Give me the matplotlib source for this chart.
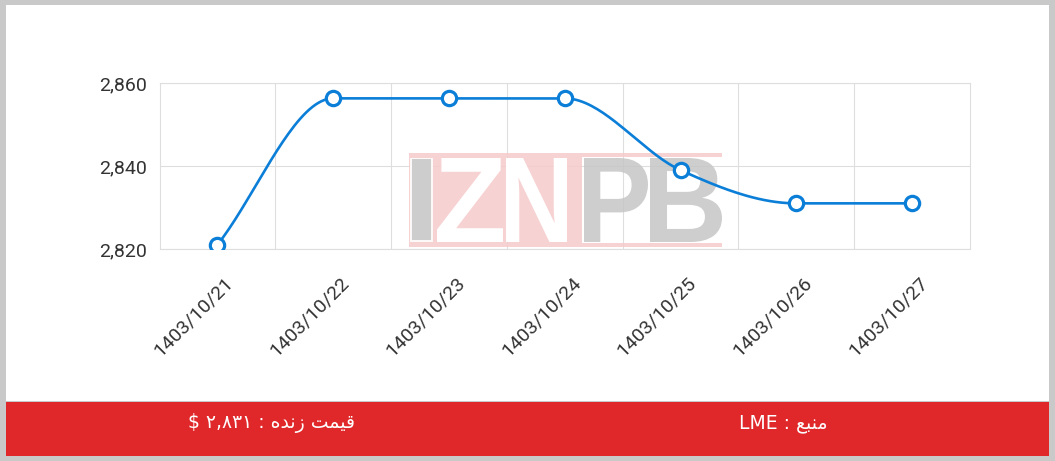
import numpy as np
import matplotlib
matplotlib.use("Agg")
import matplotlib.pyplot as plt
from matplotlib.patches import Rectangle, PathPatch
from matplotlib.textpath import TextPath
from matplotlib.font_manager import FontProperties
from matplotlib.transforms import Affine2D, ScaledTranslation

# ---------------- data ----------------
dates = ["1403/10/21", "1403/10/22", "1403/10/23", "1403/10/24",
         "1403/10/25", "1403/10/26", "1403/10/27"]
prices = [2821, 2856.3, 2856.3, 2856.3, 2839, 2831, 2831]
y_ticks = [2820, 2840, 2860]
y_tick_labels = ["2,820", "2,840", "2,860"]
# footer texts (visual order, Arabic presentation forms for shaping)
footer_price = "$ \u06F2,\u06F8\u06F3\u06F1 : \uFEE9\uFEAA\uFEE7\uFEAF \uFE96\uFEE4\uFEF4\uFED7"
footer_source = "LME : \uFECA\uFE92\uFEE8\uFEE3"

W, H = 1055, 461
LINE = "#0b7ed8"
GRID = "#dedede"
RED = "#e0282b"

fig = plt.figure(figsize=(W / 100, H / 100), dpi=100)
fig.patch.set_facecolor("#c9c9c9")

def fx(x):
    return x / W

def fy(y):
    return 1 - y / H

# white card and red footer band
fig.add_artist(Rectangle((fx(6), fy(401)), fx(1049) - fx(6), fy(5) - fy(401),
                         transform=fig.transFigure, facecolor="white",
                         edgecolor="none", zorder=-10))
fig.add_artist(Rectangle((fx(6), fy(456)), fx(1049) - fx(6), fy(402) - fy(456),
                         transform=fig.transFigure, facecolor=RED,
                         edgecolor="none", zorder=-9))

ax = fig.add_axes([fx(159.5), fy(249), fx(970) - fx(159.5), fy(83) - fy(249)])
ax.set_facecolor("none")

# ---------------- monotone cubic (Chart.js style) ----------------
xs = np.arange(len(prices), dtype=float)
ys = np.array(prices, dtype=float)
n = len(xs)
dk = np.diff(ys) / np.diff(xs)
mk = np.zeros(n)
mk[0] = dk[0]
mk[-1] = dk[-1]
for i in range(1, n - 1):
    if dk[i - 1] == 0 or dk[i] == 0 or np.sign(dk[i - 1]) != np.sign(dk[i]):
        mk[i] = 0
    else:
        mk[i] = (dk[i - 1] + dk[i]) / 2
for i in range(n - 1):
    if dk[i] == 0:
        mk[i] = 0
        mk[i + 1] = 0
        continue
    a = mk[i] / dk[i]
    b = mk[i + 1] / dk[i]
    s = a * a + b * b
    if s > 9:
        t = 3 / np.sqrt(s)
        mk[i] = a * t * dk[i]
        mk[i + 1] = b * t * dk[i]

cx, cy = [], []
for i in range(n - 1):
    h = xs[i + 1] - xs[i]
    t = np.linspace(0, 1, 40)
    h00 = 2 * t**3 - 3 * t**2 + 1
    h10 = t**3 - 2 * t**2 + t
    h01 = -2 * t**3 + 3 * t**2
    h11 = t**3 - t**2
    cx.extend(xs[i] + t * h)
    cy.extend(h00 * ys[i] + h10 * h * mk[i] + h01 * ys[i + 1] + h11 * h * mk[i + 1])

ax.plot(cx, cy, color=LINE, lw=1.9, zorder=3, solid_capstyle="round")
ax.plot(xs, ys, linestyle="none", marker="o", markersize=10.3,
        markerfacecolor="white", markeredgecolor=LINE, markeredgewidth=2.3,
        zorder=4)

ax.set_xlim(-0.5, len(dates) - 0.5)
ax.set_ylim(2820, 2860)

ax.set_yticks(y_ticks)
ax.set_yticklabels(y_tick_labels, fontsize=14, color="#333333", family="Roboto")
ax.set_xticks(xs)
ax.set_xticklabels(dates, fontsize=14, color="#333333", family="Roboto",
                   rotation=45, ha="right", va="center", rotation_mode="anchor")
ax.set_xticks(np.arange(0.5, len(dates) - 1, 1.0), minor=True)
ax.tick_params(axis="both", which="both", length=0)
ax.tick_params(axis="y", pad=9)
ax.tick_params(axis="x", pad=22)
for lbl in ax.get_xticklabels():
    lbl.set_transform(lbl.get_transform() + ScaledTranslation(0.13, 0, fig.dpi_scale_trans))

ax.grid(True, which="minor", axis="x", color=GRID, lw=0.8)
ax.grid(True, which="major", axis="y", color=GRID, lw=0.8)
ax.set_axisbelow(True)
for sp in ax.spines.values():
    sp.set_color(GRID)
    sp.set_linewidth(0.8)

# ---------------- watermark (IZNPB) ----------------
to_fig = Affine2D().scale(1 / W, 1 / H) + fig.transFigure
PINK = "#f6cbcc"
GRAY = "#c6c6c6"
WM_ALPHA = 0.85

def pix_rect(x0, y0, x1, y1, color, z=1.5):
    r = Rectangle((x0, H - y1), x1 - x0, y1 - y0, transform=to_fig,
                  facecolor=color, edgecolor="none", alpha=WM_ALPHA,
                  zorder=z, clip_on=False)
    ax.add_artist(r)

def pix_letter(ch, x0, y0, x1, y1, color, z=1.7):
    fp = FontProperties(family="Liberation Sans", weight="bold")
    tp = TextPath((0, 0), ch, size=100, prop=fp)
    ext = tp.get_extents()
    sx = (x1 - x0) / ext.width
    sy = (y1 - y0) / ext.height
    tr = (Affine2D().translate(-ext.x0, -ext.y0).scale(sx, sy)
          .translate(x0, H - y1)) + to_fig
    p = PathPatch(tp, transform=tr, facecolor=color, edgecolor="none",
                  alpha=WM_ALPHA if color != "white" else 1.0,
                  zorder=z, clip_on=False)
    ax.add_artist(p)

pix_rect(409, 153, 722, 157, PINK)
pix_rect(409, 243, 722, 247, PINK)
pix_rect(409, 157, 582, 243, PINK)
pix_rect(410, 158, 433, 242, "white", z=1.6)
pix_rect(412, 159, 431, 240, GRAY, z=1.7)
pix_letter("Z", 437, 158, 503, 242, "white")
pix_letter("N", 506, 158, 567, 242, "white")
pix_letter("P", 584, 158, 648, 242, GRAY)
pix_letter("B", 650, 158, 722, 242, GRAY)

# ---------------- footer texts ----------------
fig.text(fx(272), fy(423), footer_price, color="white", fontsize=13.5,
         ha="center", va="center", family=["DejaVu Sans"])
fig.text(fx(783), fy(423), footer_source, color="white", fontsize=13.5,
         ha="center", va="center", family=["DejaVu Sans"])

fig.savefig("out.png", dpi=100, facecolor=fig.get_facecolor())
